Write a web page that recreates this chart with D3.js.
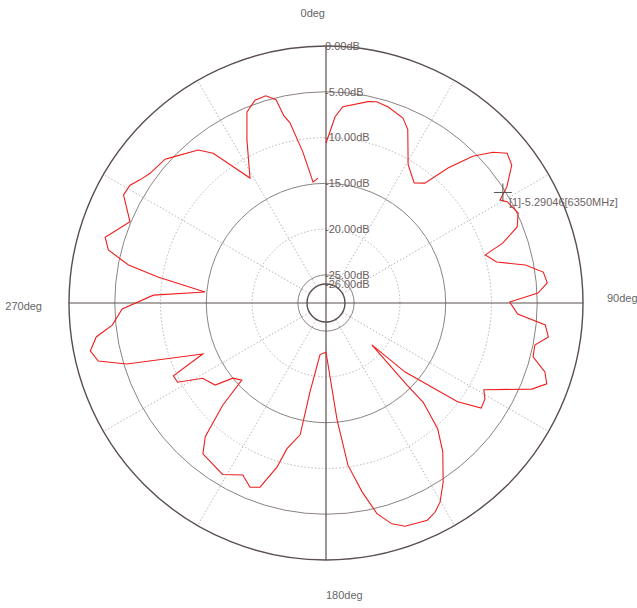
<!DOCTYPE html>
<html>
<head>
<meta charset="utf-8">
<style>
  body { margin: 0; background: #fff; }
  svg { display: block; font-family: "Liberation Sans", Arial, sans-serif; }
</style>
<script src="https://cdn.jsdelivr.net/npm/d3@7"></script>
</head>
<body>
<svg id="chart" width="637" height="608"></svg>
<script>
// measured pattern: angle in degrees (clockwise from 0deg at top), gain in dB
const angles = [0, 2.8, 4.9, 11.8, 14.1, 17.5, 22.6, 25.2, 30.7, 36.3, 39.5, 42.1, 45, 47.9, 50.4, 53.4, 57.3, 59.4,
  60.8, 64.9, 68.3, 71.3, 73.2, 76.5, 79.2, 81.9, 84.8, 87.3, 89.7, 93.3, 95.7, 98.7, 101.4, 104.6, 107.5, 110.1,
  112.7, 118.8, 121.1, 124.1, 126.9, 131.1, 132.4, 135.4, 135.6, 138.4, 141.9, 146.8, 150.2, 152.5, 155, 160.5,
  163.4, 166.4, 169.2, 172.3, 174.6, 180, 186.6, 190.2, 191.1, 195, 196.6, 199.7, 202.4, 205.8, 211.1, 219.2,
  222.1, 225.3, 227.5, 231.1, 233.5, 238.6, 241.9, 244.5, 247.5, 253, 255.7, 258.5, 261.6, 264.1, 268.3, 272.6,
  275.2, 278.8, 280.9, 283.7, 286.6, 292.5, 298.1, 301, 303.5, 306.4, 311.8, 314.2, 320.1, 323, 328.7, 334.1,
  337.5, 340.7, 343.8, 346.2, 347.3, 348.7, 351.3, 353.9, 356.3]
const gains = [-10.6, -7.7, -6.55, -5.6, -5.4, -5.6, -6.2, -7.1, -10.5, -11.8, -11.1, -8.2, -5.4, -3.5, -2.4, -2.8, -4.6, -6.0,
  -5.4, -4.9, -5.6, -7.7, -9.9, -8.9, -5.9, -4.1, -3.8, -4.9, -8.0, -7.1, -4.0, -3.5, -4.8, -4.7, -3.0, -2.4,
  -3.7, -8.4, -7.8, -7.6, -10.1, -16.6, -21.3, -15.5, -12.9, -9.7, -7.4, -4.7, -3.0, -2.3, -1.9, -2.2,
  -2.9, -4.4, -7.1, -10.2, -15.3, -22.7, -22.4, -18.2, -13.4, -11.6, -9.4, -6.7, -6.3, -7.2, -6.2, -6.8,
  -8.4, -12.2, -15.6, -15.0, -13.0, -12.3, -9.7, -9.6, -13.5, -5.3, -2.4, -1.8, -2.7, -4.6, -5.8, -9.2,
  -14.8, -9.5, -6.1, -3.6, -2.9, -4.9, -3.0, -3.1, -3.7, -4.2, -4.5, -5.1, -6.3, -7.6, -12.1, -8.3,
  -5.5, -4.6, -4.5, -5.2, -7.1, -8.0, -11.4, -14.8, -14.4]

const ringValues = [0, -5, -10, -15, -20, -25, -26]
const spokeAngles = [30, 60, 120, 150, 210, 240, 300, 330]
const axisLabels = ["0deg", "90deg", "180deg", "270deg"]

const markerName = "[1]"
const markerAngle = 58
const markerGain = -5.29046
const markerFreq = "6350MHz"

let svg = d3.select("#chart")
let cx = 326, cy = 303

let r = d3.scaleLinear()
  .domain([-26, 0])
  .range([19, 257])

let rad = d => d * Math.PI / 180

let body = svg.append("g")
  .attr("transform", "translate(" + cx + "," + cy + ")")

// spokes (dotted)
body.selectAll(".spoke")
  .data(spokeAngles)
  .enter()
  .append("line")
  .attr("x1", d => r(-26) * Math.sin(rad(d)))
  .attr("y1", d => -r(-26) * Math.cos(rad(d)))
  .attr("x2", d => r(0) * Math.sin(rad(d)))
  .attr("y2", d => -r(0) * Math.cos(rad(d)))
  .attr("stroke", "#b8b4b4")
  .attr("stroke-width", 1)
  .attr("stroke-dasharray", "1.5,2")

// rings
body.selectAll(".ring")
  .data(ringValues)
  .enter()
  .append("circle")
  .attr("r", d => r(d))
  .attr("fill", "none")
  .attr("stroke", d => (d == 0 || d == -26) ? "#5a4e4e" : (d % 10 == 0 ? "#b8b4b4" : "#8c8282"))
  .attr("stroke-width", d => (d == 0 || d == -26) ? 1.4 : 1)
  .attr("stroke-dasharray", d => (d % 10 == 0 && d != 0) ? "1.5,2" : null)

// main axes
body.append("line")
  .attr("x1", 0).attr("y1", -r(0)).attr("x2", 0).attr("y2", r(0))
  .attr("stroke", "#5a4e4e").attr("stroke-width", 1.2)
body.append("line")
  .attr("x1", -r(0)).attr("y1", 0).attr("x2", r(0)).attr("y2", 0)
  .attr("stroke", "#5a4e4e").attr("stroke-width", 1.2)

// ring labels
body.selectAll(".rlabel")
  .data(ringValues)
  .enter()
  .append("text")
  .attr("x", -1)
  .attr("y", d => -r(d))
  .attr("dy", "0.35em")
  .attr("font-size", 11)
  .attr("fill", "#6b6060")
  .text(d => d.toFixed(2) + "dB")

// angle labels
svg.append("text").attr("x", cx - 1).attr("y", 17).attr("text-anchor", "end")
  .attr("font-size", 11).attr("fill", "#666").text(axisLabels[0])
svg.append("text").attr("x", 607).attr("y", 302).attr("text-anchor", "start")
  .attr("font-size", 11).attr("fill", "#666").text(axisLabels[1])
svg.append("text").attr("x", cx).attr("y", 599).attr("text-anchor", "start")
  .attr("font-size", 11).attr("fill", "#666").text(axisLabels[2])
svg.append("text").attr("x", 42).attr("y", 310).attr("text-anchor", "end")
  .attr("font-size", 11).attr("fill", "#666").text(axisLabels[3])

// pattern trace
let data = angles.map((a, i) => ({ angle: a, gain: gains[i] }))
let line = d3.lineRadial()
  .angle(d => rad(d.angle))
  .radius(d => r(d.gain))

body.append("path")
  .attr("d", line(data))
  .attr("fill", "none")
  .attr("stroke", "#f01e1e")
  .attr("stroke-width", 1.1)

// marker
let mx = r(markerGain) * Math.sin(rad(markerAngle))
let my = -r(markerGain) * Math.cos(rad(markerAngle))
body.append("line").attr("x1", mx - 9).attr("x2", mx + 9).attr("y1", my).attr("y2", my)
  .attr("stroke", "#555").attr("stroke-width", 1)
body.append("line").attr("x1", mx).attr("x2", mx).attr("y1", my - 9).attr("y2", my + 9)
  .attr("stroke", "#555").attr("stroke-width", 1)
body.append("text")
  .attr("x", mx + 6)
  .attr("y", my + 10)
  .attr("dy", "0.35em")
  .attr("font-size", 11)
  .attr("fill", "#6e6464")
  .text(markerName + markerGain + "[" + markerFreq + "]")
</script>
</body>
</html>
